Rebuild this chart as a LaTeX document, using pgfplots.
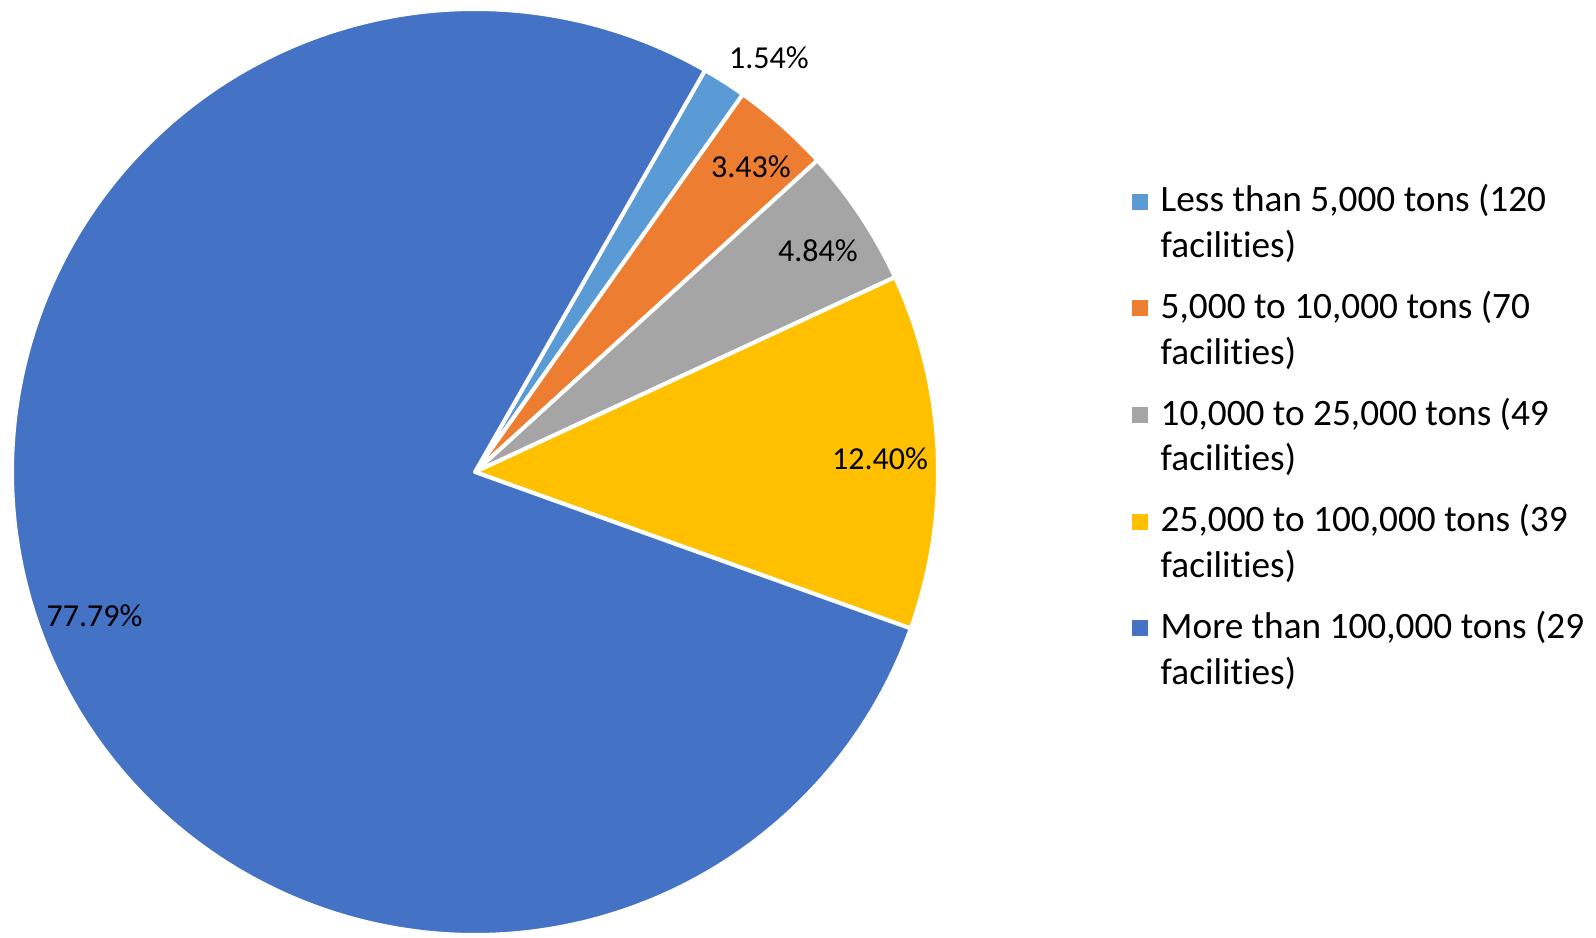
\documentclass[border=0pt]{standalone}
\usepackage{pgfplots}
\pgfplotsset{compat=1.18}
\usepackage{fontspec}
\setmainfont{Carlito}[Ligatures=NoCommon]
\definecolor{cA}{HTML}{5B9BD5}
\definecolor{cB}{HTML}{ED7D31}
\definecolor{cC}{HTML}{A5A5A5}
\definecolor{cD}{HTML}{FFC000}
\definecolor{cE}{HTML}{4472C4}
\begin{document}
\begin{tikzpicture}
% shares in percent
\pgfmathsetmacro{\pA}{1.54}
\pgfmathsetmacro{\pB}{3.43}
\pgfmathsetmacro{\pC}{4.84}
\pgfmathsetmacro{\pD}{12.40}
\pgfmathsetmacro{\pE}{77.79}
\pgfmathsetmacro{\aA}{60.2}
\pgfmathsetmacro{\aB}{\aA-3.6*\pA}
\pgfmathsetmacro{\aC}{\aB-3.6*\pB}
\pgfmathsetmacro{\aD}{\aC-3.6*\pC}
\pgfmathsetmacro{\aE}{\aD-3.6*\pD}
\pgfmathsetmacro{\aF}{\aE-3.6*\pE}
\begin{axis}[
  x=0.01cm, y=0.01cm,
  xmin=-475, xmax=1121, ymin=-465, ymax=472,
  hide axis, clip=false,
  legend style={at={(axis cs:656,288)}, anchor=north west, draw=none, fill=none,
    font=\fontsize{10.6}{13}\selectfont, row sep=0.284cm, column sep=0.13cm,
    inner sep=0pt, nodes={align=left, inner sep=0pt}},
  legend cell align=left,
  legend image code/.code={\fill[#1,draw=none] (0cm,0.14cm) rectangle (0.16cm,0.30cm);},
]
\path (axis cs:-475,-465) rectangle (axis cs:1121,472);
\addplot[fill=cA, draw=white, line width=0.04cm, line join=round, data cs=polar, domain=\aA:\aB, samples=20, variable=\t] ({\t},{463}) -- (axis cs:0,0) -- cycle;
\addlegendentry{Less than 5,000 tons (120\\facilities)}
\addplot[fill=cB, draw=white, line width=0.04cm, line join=round, data cs=polar, domain=\aB:\aC, samples=30, variable=\t] ({\t},{463}) -- (axis cs:0,0) -- cycle;
\addlegendentry{5,000 to 10,000 tons (70\\facilities)}
\addplot[fill=cC, draw=white, line width=0.04cm, line join=round, data cs=polar, domain=\aC:\aD, samples=40, variable=\t] ({\t},{463}) -- (axis cs:0,0) -- cycle;
\addlegendentry{10,000 to 25,000 tons (49\\facilities)}
\addplot[fill=cD, draw=white, line width=0.04cm, line join=round, data cs=polar, domain=\aD:\aE, samples=60, variable=\t] ({\t},{463}) -- (axis cs:0,0) -- cycle;
\addlegendentry{25,000 to 100,000 tons (39\\facilities)}
\addplot[fill=cE, draw=white, line width=0.04cm, line join=round, data cs=polar, domain=\aE:\aF, samples=250, variable=\t] ({\t},{463}) -- (axis cs:0,0) -- cycle;
\addlegendentry{More than 100,000 tons (29\\facilities)}
\begin{scope}[font=\fontsize{9.1}{12.8}\selectfont]
\node[anchor=base] at (axis cs:294,403) {1.54\%};
\node[anchor=base] at (axis cs:276,294) {3.43\%};
\node[anchor=base] at (axis cs:343,210) {4.84\%};
\node[anchor=base] at (axis cs:405,2) {12.40\%};
\node[anchor=base] at (axis cs:-380.5,-155) {77.79\%};
\end{scope}
\end{axis}
\end{tikzpicture}
\end{document}
